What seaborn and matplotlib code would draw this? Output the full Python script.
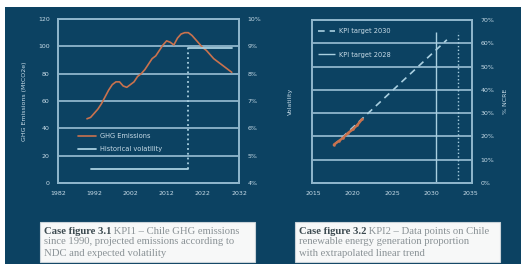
import numpy as np
import pandas as pd
import matplotlib as mpl
mpl.use('Agg')
import matplotlib.pyplot as plt
import seaborn as sns
from matplotlib.patches import Rectangle

# --- data ---
ghg_years = list(range(1990, 2031))
ghg_values = [47, 48, 51, 54, 58, 63, 68, 72, 74, 74, 71, 70, 72, 74, 78, 80, 83, 87, 91, 93,
              97, 101, 104, 103, 101, 106, 109, 110, 110, 108, 105, 102, 99, 97, 94, 91, 89,
              87, 85, 83, 81]
vol_years = [1991, 2018, 2018, 2030]
vol_values = [4.5, 4.5, 8.95, 8.95]

ncre_years = [2017.6, 2018.2, 2018.8, 2019.4, 2020.0, 2020.6, 2021.2]
ncre_values = [16.5, 18, 19.5, 21.5, 23, 25, 27.5]
trend_years = [2017.5, 2032.0]
trend_values = [16.0, 61.5]
kpi_2030_year = 2030.6
kpi_2028_year = 2033.4
kpi_top = 65

left_xticks = [1982, 1992, 2002, 2012, 2022, 2032]
left_yticks = [0, 20, 40, 60, 80, 100, 120]
left_rticks = [4, 5, 6, 7, 8, 9, 10]
right_xticks = [2015, 2020, 2025, 2030, 2035]
right_yticks = [0, 10, 20, 30, 40, 50, 60, 70]

NAVY = '#0c4262'
GRID = '#8fb6cc'
TXT = '#c8dce8'
ORANGE = '#c9724e'
LIGHT = '#a9cfe0'

sns.set_style('dark')
plt.rcParams['font.family'] = ['DejaVu Sans']

W, H = 521, 266
fig = plt.figure(figsize=(W / 100, H / 100), dpi=100)
fig.patch.set_facecolor('white')
fig.patches.append(Rectangle((5 / W, 2 / H), 516 / W, 257 / H, transform=fig.transFigure,
                             facecolor=NAVY, edgecolor='none', zorder=-5))


def px_axes(x0, y0, x1, y1):
    ax = fig.add_axes([x0 / W, (H - y1) / H, (x1 - x0) / W, (y1 - y0) / H])
    ax.set_zorder(3)
    return ax


def style(ax):
    ax.set_facecolor('none')
    ax.patch.set_alpha(0)
    for s in ax.spines.values():
        s.set_visible(True)
        s.set_color(GRID)
        s.set_linewidth(1.3)
    ax.grid(False)
    ax.tick_params(length=0, colors=TXT, labelsize=4.5, pad=6)


# ---------- left panel ----------
ax1 = px_axes(58, 19, 239, 183)
style(ax1)
sns.lineplot(x=ghg_years, y=ghg_values, ax=ax1, color=ORANGE, lw=1.2, label='GHG Emissions')
ax1.set_xlim(1982, 2032)
ax1.set_ylim(0, 120)
for v in left_yticks:
    ax1.axhline(v, color=GRID, lw=1.3, zorder=0)
ax1.set_xticks(left_xticks)
ax1.set_yticks(left_yticks)
ax1.set_ylabel('GHG Emissions (MtCO2e)', color=TXT, fontsize=4.5, labelpad=8)

ax1r = ax1.twinx()
ax1r.set_zorder(4)
style(ax1r)
ax1r.set_ylim(4, 10)
ax1r.plot(vol_years[:2], vol_values[:2], color=LIGHT, lw=1.3)
ax1r.plot(vol_years[1:3], vol_values[1:3], color=LIGHT, lw=1.3, ls=':')
ax1r.plot(vol_years[2:], vol_values[2:], color=LIGHT, lw=1.3)
ax1r.set_yticks(left_rticks)
ax1r.set_yticklabels([f'{v}%' for v in left_rticks])
ax1.plot([], [], color=LIGHT, lw=1.3, label='Historical volatility')
ax1.legend(loc='lower left', bbox_to_anchor=(0.08, 0.15), frameon=False, fontsize=4.8,
           handlelength=2.6, handletextpad=0.6, labelspacing=1.1, labelcolor=TXT)

# ---------- right panel ----------
ax2 = px_axes(312, 20, 472, 183)
style(ax2)
ax2.set_xlim(2014.8, 2035.2)
ax2.set_ylim(0, 70)
ax2.set_yticks(right_yticks)
ax2.set_yticklabels([])
for v in right_yticks:
    ax2.axhline(v, color=GRID, lw=1.3, zorder=0)
ax2.plot(trend_years, trend_values, color=LIGHT, lw=1.2, ls=(0, (4, 3)), label='KPI target 2030')
ax2.vlines(kpi_2030_year, 0, kpi_top, color=LIGHT, lw=1.0, label='KPI target 2028')
ax2.vlines(kpi_2028_year, 0, kpi_top, color=LIGHT, lw=1.0, ls=':')
sns.lineplot(x=ncre_years, y=ncre_values, ax=ax2, color=ORANGE, lw=1.8, marker='o', ms=1.8,
             markeredgewidth=0, legend=False)
ax2.set_xticks(right_xticks)
ax2.set_ylabel('Volatility', color=TXT, fontsize=4.5, labelpad=8)
ax2.legend(loc='upper left', bbox_to_anchor=(0.0, 0.985), frameon=False, fontsize=4.8,
           handlelength=2.6, handletextpad=0.6, labelspacing=2.6, labelcolor=TXT)

ax2r = ax2.twinx()
ax2r.set_zorder(4)
style(ax2r)
ax2r.set_ylim(0, 70)
ax2r.set_yticks(right_yticks)
ax2r.set_yticklabels([f'{v}%' for v in right_yticks])
ax2r.set_ylabel('% NCRE', color=TXT, fontsize=4.5, labelpad=6)

# ---------- captions ----------
captions = [
    (40, 255, ['Case figure 3.1', ' KPI1 \u2013 Chile GHG emissions',
               'since 1990, projected emissions according to', 'NDC and expected volatility']),
    (295, 500, ['Case figure 3.2', ' KPI2 \u2013 Data points on Chile',
                'renewable energy generation proportion', 'with extrapolated linear trend']),
]
FS = 7.7
for x0, x1, parts in captions:
    fig.patches.append(Rectangle((x0 / W, (H - 262) / H), (x1 - x0) / W, 40 / H,
                                 transform=fig.transFigure, facecolor='#f7f8f8',
                                 edgecolor='#c9d3d9', lw=0.8, zorder=1))
    tx = (x0 + 4) / W
    t = fig.text(tx, (H - 231) / H, parts[0], fontsize=FS, family='Liberation Serif',
                 weight='bold', color='#3c4a50', va='center', zorder=2)
    fig.canvas.draw()
    bb = t.get_window_extent()
    fig.text(bb.x1 / W, (H - 231) / H, parts[1], fontsize=FS, family='Liberation Serif',
             color='#8a9296', va='center', zorder=2)
    fig.text(tx, (H - 242) / H, parts[2], fontsize=FS, family='Liberation Serif',
             color='#8a9296', va='center', zorder=2)
    fig.text(tx, (H - 253) / H, parts[3], fontsize=FS, family='Liberation Serif',
             color='#8a9296', va='center', zorder=2)

fig.savefig('out.png', dpi=100)
